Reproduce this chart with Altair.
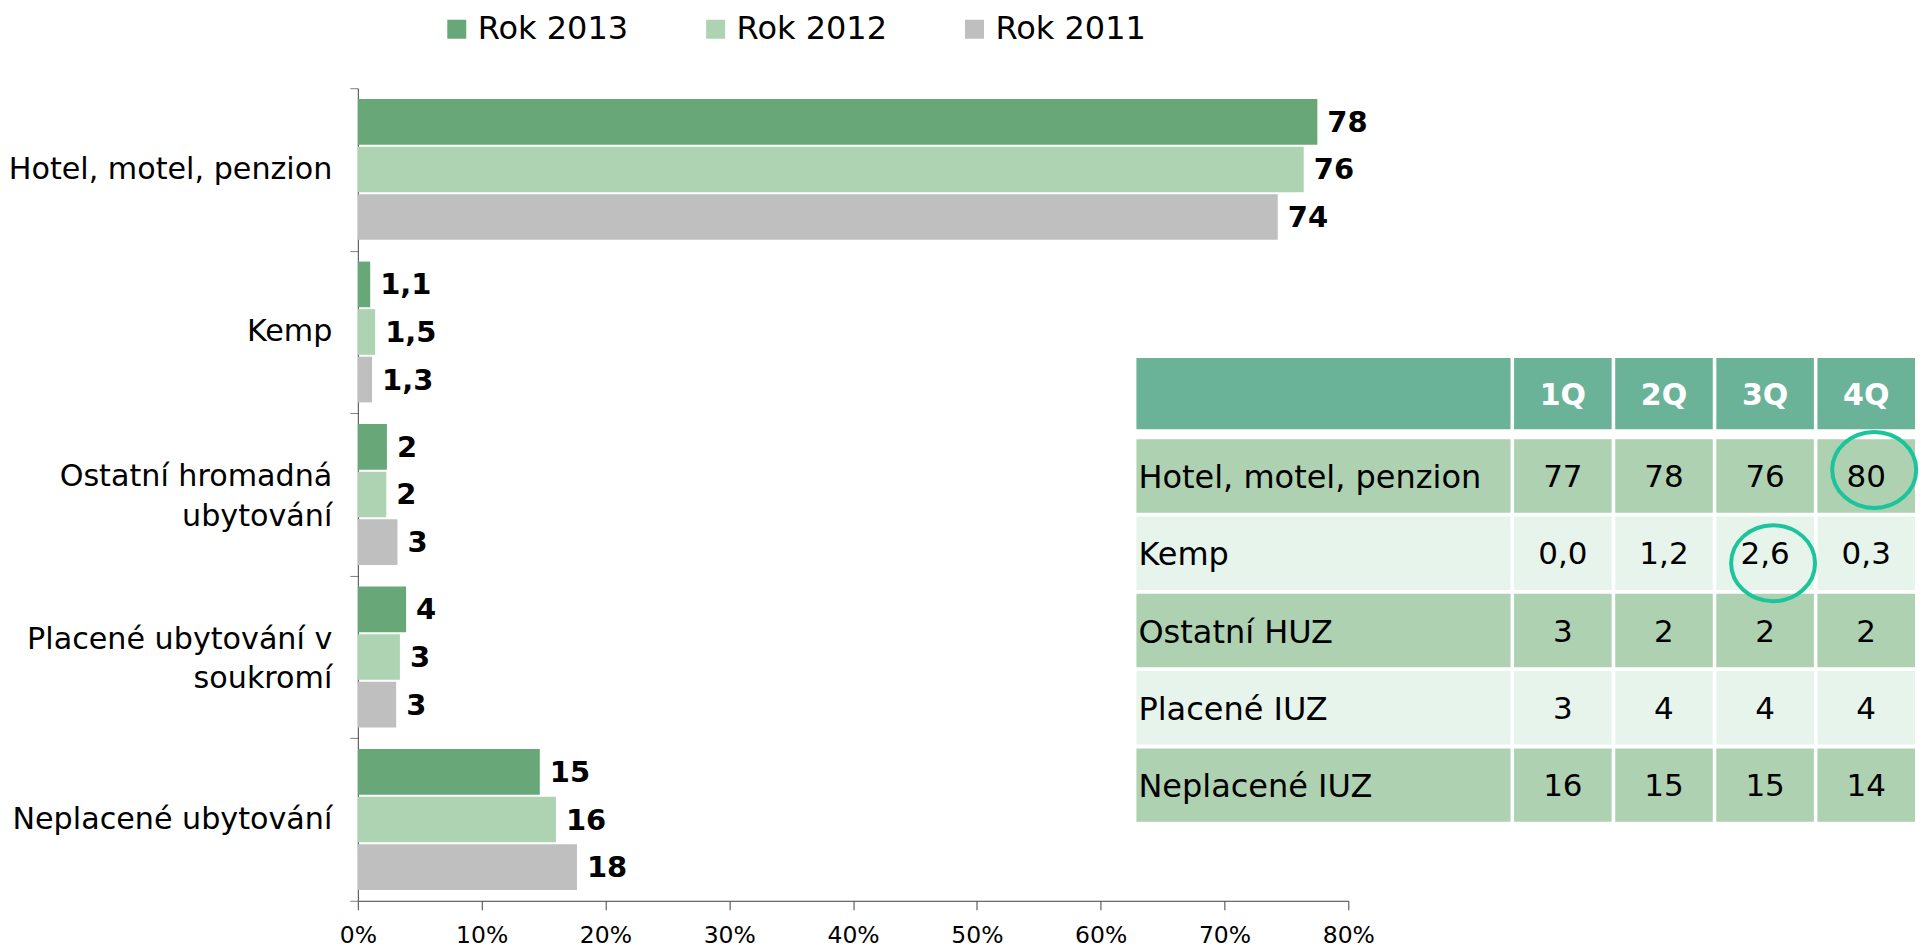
import altair as alt
import pandas as pd

# ---------------- data ----------------
categories = [
    "Hotel, motel, penzion",
    "Kemp",
    "Ostatní hromadná\nubytování",
    "Placené ubytování v\nsoukromí",
    "Neplacené ubytování",
]
years = ["Rok 2013", "Rok 2012", "Rok 2011"]
values_2013 = [77.5, 1.0, 2.35, 3.9, 14.7]
values_2012 = [76.4, 1.4, 2.3, 3.4, 16.0]
values_2011 = [74.3, 1.15, 3.2, 3.1, 17.7]
labels_2013 = ["78", "1,1", "2", "4", "15"]
labels_2012 = ["76", "1,5", "2", "3", "16"]
labels_2011 = ["74", "1,3", "3", "3", "18"]
x_ticks = [0, 10, 20, 30, 40, 50, 60, 70, 80]

table_rows = ["Hotel, motel, penzion", "Kemp", "Ostatní HUZ", "Placené IUZ", "Neplacené IUZ"]
table_quarters = ["1Q", "2Q", "3Q", "4Q"]
table_q1 = ["77", "0,0", "3", "3", "16"]
table_q2 = ["78", "1,2", "2", "4", "15"]
table_q3 = ["76", "2,6", "2", "4", "15"]
table_q4 = ["80", "0,3", "2", "4", "14"]
highlights = [("4Q", "Hotel, motel, penzion"), ("3Q", "Kemp")]

# ---------------- style ----------------
FONT = "DejaVu Sans"
bar_colors = ["#68A878", "#AED3B2", "#BFBFBF"]
table_colors = {"header": "#6AB399", "dark": "#AED1B1", "light": "#E6F4EC"}
circle_color = "#1BC49A"
# hand-drawn highlight ellipses: pixel nudges from the cell centre
circle_nudges = [(8, -6), (8, 10)]
ELLIPSE = "M -1 0 A 1 0.905 0 1 0 1 0 A 1 0.905 0 1 0 -1 0 Z"

# ---------------- bar chart ----------------
rows = []
for yr, vals, labs in zip(years, [values_2013, values_2012, values_2011],
                          [labels_2013, labels_2012, labels_2011]):
    for c, v, l in zip(categories, vals, labs):
        rows.append({"cat": c, "year": yr, "value": v, "label": l})
df = pd.DataFrame(rows)

y_enc = alt.Y(
    "cat:N",
    sort=categories,
    scale=alt.Scale(paddingInner=0, paddingOuter=0),
    axis=alt.Axis(
        title=None,
        labelExpr="split(datum.label, '\\n')",
        labelFont=FONT,
        labelFontSize=30.2,
        labelColor="black",
        labelLineHeight=40,
        labelOffset={"condition": {"test": "indexof(datum.label, '\\n') >= 0", "value": -18}, "value": 0},
        labelPadding=18,
        labelLimit=400,
        tickBand="extent",
        tickSize=8,
        tickColor="#808080",
        domainColor="#404040",
        grid=False,
    ),
)
yoff_enc = alt.YOffset(
    "year:N", sort=years, scale=alt.Scale(paddingInner=0.04, paddingOuter=0.228)
)
x_enc = alt.X(
    "value:Q",
    scale=alt.Scale(domain=[0, 80], nice=False),
    axis=alt.Axis(
        title=None,
        values=x_ticks,
        labelExpr="datum.value + '%'",
        labelFlush=False,
        labelFont=FONT,
        labelFontSize=23.5,
        labelColor="black",
        labelPadding=14,
        tickSize=9,
        tickColor="#404040",
        domainColor="#404040",
        grid=False,
    ),
)

bars = alt.Chart(df).mark_bar().encode(
    y=y_enc,
    yOffset=yoff_enc,
    x=x_enc,
    color=alt.Color(
        "year:N",
        scale=alt.Scale(domain=years, range=bar_colors),
        legend=alt.Legend(
            title=None,
            orient="none",
            legendX=83,
            legendY=-75,
            direction="horizontal",
            symbolType="square",
            symbolSize=361,
            symbolStrokeWidth=0,
            labelFont=FONT,
            labelFontSize=32,
            labelColor="black",
            labelOffset=5,
            columnPadding=71,
        ),
    ),
)

bar_text = alt.Chart(df).mark_text(
    align="left", baseline="middle", dx=10, dy=1, font=FONT, fontSize=29, fontWeight="bold", color="black"
).encode(y=y_enc, yOffset=yoff_enc, x=x_enc, text="label:N")

bar_layer = alt.layer(bars, bar_text)

# ---------------- table overlay ----------------
LABEL_W = 3.70
Q_START = 3.735
Q_W = 0.965
HEADER_H = 0.92
ROW_START = 1.05
ROW_H = 0.95

cells = []
cells.append({"x0": 0, "x1": LABEL_W, "y0": 0, "y1": HEADER_H, "kind": "header"})
for k, q in enumerate(table_quarters):
    cells.append({"x0": Q_START + k, "x1": Q_START + k + Q_W, "y0": 0, "y1": HEADER_H, "kind": "header"})
for i, r in enumerate(table_rows):
    kind = "dark" if i % 2 == 0 else "light"
    y0 = ROW_START + i
    cells.append({"x0": 0, "x1": LABEL_W, "y0": y0, "y1": y0 + ROW_H, "kind": kind})
    for k in range(4):
        cells.append({"x0": Q_START + k, "x1": Q_START + k + Q_W, "y0": y0, "y1": y0 + ROW_H, "kind": kind})
cells_df = pd.DataFrame(cells)

tx = alt.Scale(domain=[0, Q_START + 3 + Q_W], range=[779, 1558], nice=False, zero=False)
ty = alt.Scale(domain=[0, ROW_START + 4 + ROW_H], range=[270, 734], nice=False, zero=False)

table_rects = alt.Chart(cells_df).mark_rect().encode(
    x=alt.X("x0:Q", scale=tx, axis=None),
    x2="x1:Q",
    y=alt.Y("y0:Q", scale=ty, axis=None),
    y2="y1:Q",
    color=alt.Color(
        "kind:N",
        scale=alt.Scale(domain=list(table_colors.keys()), range=list(table_colors.values())),
        legend=None,
    ),
)

hdr_df = pd.DataFrame(
    [{"x": Q_START + k + Q_W / 2, "y": HEADER_H / 2, "t": q} for k, q in enumerate(table_quarters)]
)
header_text = alt.Chart(hdr_df).mark_text(
    font=FONT, fontSize=30, fontWeight="bold", color="white", align="center", baseline="middle", dy=2
).encode(
    x=alt.X("x:Q", scale=tx, axis=None), y=alt.Y("y:Q", scale=ty, axis=None), text="t:N"
)

lab_df = pd.DataFrame(
    [{"x": 0.02, "y": ROW_START + i + ROW_H / 2, "t": r} for i, r in enumerate(table_rows)]
)
row_label_text = alt.Chart(lab_df).mark_text(
    font=FONT, fontSize=32, color="black", align="left", baseline="middle", dy=2
).encode(
    x=alt.X("x:Q", scale=tx, axis=None), y=alt.Y("y:Q", scale=ty, axis=None), text="t:N"
)

val_rows = []
for k, col in enumerate([table_q1, table_q2, table_q3, table_q4]):
    for i, v in enumerate(col):
        val_rows.append({"x": Q_START + k + Q_W / 2, "y": ROW_START + i + ROW_H / 2, "t": v})
val_df = pd.DataFrame(val_rows)
val_text = alt.Chart(val_df).mark_text(
    font=FONT, fontSize=31, color="black", align="center", baseline="middle", dy=2
).encode(
    x=alt.X("x:Q", scale=tx, axis=None), y=alt.Y("y:Q", scale=ty, axis=None), text="t:N"
)

circle_layers = []
for (q, r), (nx, ny) in zip(highlights, circle_nudges):
    cdf = pd.DataFrame(
        [{"x": Q_START + table_quarters.index(q) + Q_W / 2,
          "y": ROW_START + table_rows.index(r) + ROW_H / 2}]
    )
    circle_layers.append(
        alt.Chart(cdf).mark_point(
            shape=ELLIPSE, filled=False, size=7056, stroke=circle_color, strokeWidth=4, opacity=1
        ).encode(
            x=alt.X("x:Q", scale=tx, axis=None),
            y=alt.Y("y:Q", scale=ty, axis=None),
            xOffset=alt.value(nx),
            yOffset=alt.value(ny),
        )
    )

table_layer = alt.layer(table_rects, header_text, row_label_text, val_text, *circle_layers)

chart = (
    alt.layer(bar_layer, table_layer)
    .resolve_scale(x="independent", y="independent", color="independent")
    .properties(
        width=991,
        height=813,
        autosize=alt.AutoSizeParams(type="none"),
        padding={"left": 350, "top": 80, "right": 576, "bottom": 52},
    )
    .configure_view(strokeWidth=0)
)

chart.save("out.html", embed_options={"renderer": "svg", "actions": False})
